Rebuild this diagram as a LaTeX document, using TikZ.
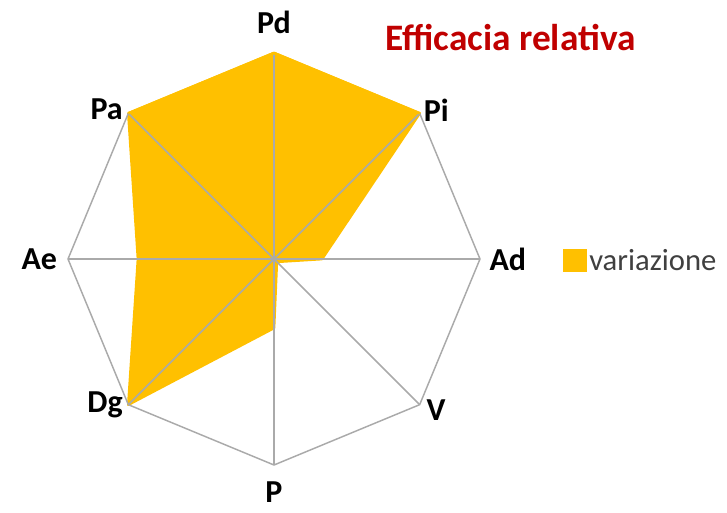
\documentclass[tikz,border=0pt]{standalone}
\usepackage{fontspec}
\setmainfont{Carlito}
\usetikzlibrary{positioning}
\definecolor{gold}{RGB}{255,192,0}
\definecolor{darkred}{RGB}{192,0,0}
\definecolor{gridgray}{RGB}{170,170,170}
\definecolor{textgray}{RGB}{64,64,64}
\tikzset{
	axis label/.style={font=\fontsize{24}{28}\selectfont\bfseries, inner sep=0pt},
	grid line/.style={draw=gridgray, line width=1.1pt},
}
\begin{document}
	\begin{tikzpicture}[x=0.75pt, y=0.75pt]
		\useasboundingbox (-274,-253) rectangle (453,259);
		\coordinate (O) at (0,0);
		\coordinate (Pd) at (90:206);
		\coordinate (Pi) at (45:206);
		\coordinate (Ad) at (0:206);
		\coordinate (V) at (-45:206);
		\coordinate (P) at (-90:206);
		\coordinate (Dg) at (-135:206);
		\coordinate (Ae) at (180:206);
		\coordinate (Pa) at (135:206);
		\coordinate (vPd) at (90:206);
		\coordinate (vPi) at (45:206);
		\coordinate (vAd) at (0:48);
		\coordinate (vV) at (-45:4);
		\coordinate (vP) at (-90:69);
		\coordinate (vDg) at (-135:206);
		\coordinate (vAe) at (180:136);
		\coordinate (vPa) at (135:206);
		\filldraw[color=gold, line width=2pt, line join=round] (vPd) -- (vPi) -- (vAd) -- (vV) -- (vP) -- (vDg) -- (vAe) -- (vPa) -- cycle;
		\foreach \v in {Pd, Pi, Ad, V, P, Dg, Ae, Pa}
			\draw[grid line] (O) -- (\v);
		\draw[grid line] (Pi) -- (Ad) -- (V) -- (P) -- (Dg) -- (Ae) -- (Pa);
		\draw[color=gold, line width=2pt, line join=round] (Pa) -- (Pd) -- (Pi);
		\node[axis label, above=14pt of Pd] (lPd) {Pd};
		\node[axis label, right=3pt of Pi, yshift=2pt] (lPi) {Pi};
		\node[axis label, right=7pt of Ad] (lAd) {Ad};
		\node[axis label, right=5pt of V, yshift=-4pt] (lV) {V};
		\node[axis label, below=12pt of P] (lP) {P};
		\node[axis label, left=4pt of Dg] (lDg) {Dg};
		\node[axis label, left=8pt of Ae] (lAe) {Ae};
		\node[axis label, left=4pt of Pa, yshift=3pt] (lPa) {Pa};
		\node[axis label, font=\fontsize{28}{32}\selectfont\bfseries, text=darkred, anchor=base west] (title) at (111,209) {Efficacia relativa};
		\fill[color=gold] (289,-13) rectangle (313,10);
		\node[inner sep=0pt, anchor=base west, text=textgray, font=\fontsize{23}{27}\selectfont] (legend) at (315,-11) {variazione};
	\end{tikzpicture}
\end{document}
